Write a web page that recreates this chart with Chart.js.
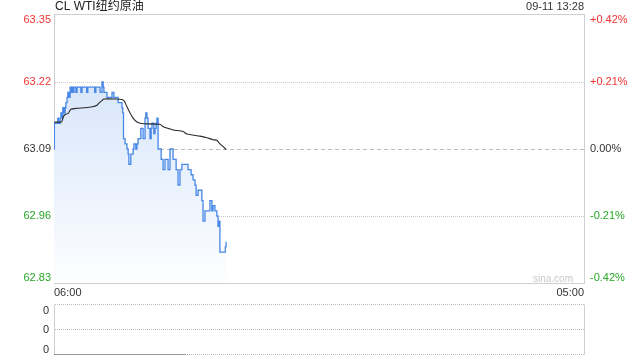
<!DOCTYPE html>
<html>
<head>
<meta charset="utf-8">
<script src="https://cdn.jsdelivr.net/npm/chart.js@4.4.1/dist/chart.umd.min.js"></script>
<style>
  html, body { margin: 0; padding: 0; background: #fff; }
  #wrap { position: relative; width: 640px; height: 360px; }
  canvas { position: absolute; left: 0; }
  #main { top: 0; }
  #vol { top: 300px; }
</style>
</head>
<body>
<div id="wrap">
  <canvas id="main" width="640" height="300"></canvas>
  <canvas id="vol" width="640" height="60"></canvas>
</div>
<script>
// chart texts
const title = 'CL WTI纽约原油';
const stamp = '09-11 13:28';
const watermark = 'sina.com';

// axes
const prevClose = 63.09;
const priceTicks = [62.83, 62.96, 63.09, 63.22, 63.35];
const pctTicks = ['-0.42%', '-0.21%', '0.00%', '+0.21%', '+0.42%'];
const xTickLabels = ['06:00', '05:00'];
const volTicks = [0, 0.5, 1];
const volTickLabels = ['0', '0', '0'];

// last price, by minute
const priceTimes = [
  '06:00', '06:01', '06:08', '06:10', '06:12', '06:16', '06:18', '06:21', '06:23', '06:26',
  '06:29', '06:31', '06:34', '06:36', '06:39', '06:42', '06:44', '06:47', '06:49', '06:52',
  '06:57', '07:00', '07:10', '07:13', '07:25', '07:28', '07:46', '07:49', '08:00', '08:05',
  '08:08', '08:10', '08:18', '08:31', '08:36', '08:47', '08:57', '08:59', '09:01', '09:05',
  '09:10', '09:13', '09:15', '09:20', '09:26', '09:28', '09:33', '09:36', '09:39', '09:46',
  '09:52', '09:57', '09:59', '10:02', '10:05', '10:10', '10:13', '10:15', '10:20', '10:23',
  '10:26', '10:28', '10:31', '10:39', '10:44', '10:49', '10:57', '11:02', '11:10', '11:18',
  '11:23', '11:28', '11:33', '11:49', '11:57', '12:02', '12:07', '12:10', '12:15', '12:25',
  '12:28', '12:33', '12:46', '12:51', '12:54', '12:59', '13:04', '13:07', '13:10', '13:12',
  '13:26', '13:28'
];
const priceValues = [
  63.09, 63.14, 63.14, 63.15, 63.14, 63.15, 63.16, 63.15, 63.17, 63.16,
  63.17, 63.18, 63.19, 63.20, 63.19, 63.21, 63.20, 63.21, 63.20, 63.21,
  63.20, 63.21, 63.20, 63.21, 63.20, 63.21, 63.20, 63.21, 63.20, 63.22,
  63.21, 63.20, 63.19, 63.20, 63.19, 63.18, 63.17, 63.16, 63.11, 63.10,
  63.09, 63.08, 63.06, 63.08, 63.09, 63.10, 63.09, 63.10, 63.11, 63.13,
  63.11, 63.15, 63.16, 63.15, 63.13, 63.11, 63.13, 63.14, 63.12, 63.13,
  63.14, 63.15, 63.09, 63.07, 63.05, 63.07, 63.05, 63.09, 63.07, 63.05,
  63.02, 63.05, 63.06, 63.05, 63.04, 63.03, 63.02, 63.00, 63.01, 62.99,
  62.95, 62.97, 62.99, 62.97, 62.98, 62.97, 62.96, 62.94, 62.95, 62.89,
  62.90, 62.91
];

// average price
const avgTimes = [
  '06:00', '06:20', '06:24', '06:29', '06:37', '06:44', '07:00', '07:20', '07:40', '07:52',
  '07:57', '08:05', '08:10', '08:40', '08:57', '09:03', '09:10', '09:18', '09:26', '09:35',
  '09:44', '09:52', '10:36', '10:44', '10:57', '11:10', '11:36', '11:46', '12:20', '12:38',
  '12:54', '13:04', '13:12', '13:20', '13:28'
];
const avgValues = [
  63.142, 63.143, 63.152, 63.157, 63.159, 63.167, 63.169, 63.170, 63.172, 63.175,
  63.179, 63.184, 63.187, 63.187, 63.186, 63.183, 63.172, 63.160, 63.150, 63.143,
  63.140, 63.139, 63.138, 63.133, 63.130, 63.127, 63.124, 63.119, 63.115, 63.112,
  63.108, 63.107, 63.100, 63.095, 63.089
];

// volume
const volTimes = ['06:00', '11:44'];
const volValues = [0, 0];

const FONT = 'Arial, "Liberation Sans", "Noto Sans CJK SC", sans-serif';
const RED = '#f03333';
const GREEN = '#26a826';
const DARK = '#333';
const FRAME = '#cfcfcf';

Chart.defaults.font.family = FONT;

function toMin(t) {
  const [h, m] = t.split(':').map(Number);
  return (h * 60 + m - 360 + 1440) % 1440;
}

function points(times, values) {
  return times.map((t, i) => ({ x: toMin(t), y: values[i] }));
}

function tickColor(v) {
  if (v > prevClose + 1e-9) return RED;
  if (v < prevClose - 1e-9) return GREEN;
  return DARK;
}

function hline(ctx, a, y, dash, color) {
  ctx.beginPath();
  ctx.setLineDash(dash);
  ctx.strokeStyle = color;
  ctx.moveTo(a.left + 1, y);
  ctx.lineTo(a.right, y);
  ctx.stroke();
}

const mainDecor = {
  id: 'mainDecor',
  beforeDatasetsDraw(chart) {
    const { ctx, chartArea: a, scales } = chart;
    ctx.save();
    ctx.lineWidth = 1;
    priceTicks.forEach((v, i) => {
      if (i === 0 || i === priceTicks.length - 1) return;
      const y = Math.round(scales.y.getPixelForValue(v)) + 0.5;
      if (v === prevClose) hline(ctx, a, y, [4, 3], '#bbb');
      else hline(ctx, a, y, [1, 1], '#ccc');
    });
    ctx.setLineDash([]);
    ctx.strokeStyle = FRAME;
    ctx.strokeRect(Math.round(a.left) + 0.5, Math.round(a.top) - 0.5,
      Math.round(a.right - a.left), Math.round(a.bottom - a.top) + 1);
    ctx.restore();
  },
  afterDraw(chart) {
    const { ctx, chartArea: a, scales } = chart;
    ctx.save();
    ctx.textBaseline = 'middle';
    ctx.font = '11px ' + FONT;
    priceTicks.forEach((v, i) => {
      let y = scales.y.getPixelForValue(v);
      y = Math.min(Math.max(y, a.top + 5), a.bottom - 5);
      ctx.fillStyle = tickColor(v);
      ctx.textAlign = 'right';
      ctx.fillText(v.toFixed(2), a.left - 3, y);
      ctx.textAlign = 'left';
      ctx.fillText(pctTicks[i], a.right + 6, y);
    });
    ctx.fillStyle = DARK;
    ctx.textAlign = 'right';
    ctx.fillText(stamp, a.right, 7);
    ctx.textAlign = 'left';
    ctx.font = '12px ' + FONT;
    ctx.fillStyle = '#222';
    ctx.fillText(title, a.left + 1, 7);
    ctx.font = '10px ' + FONT;
    ctx.fillStyle = '#c8c8c8';
    ctx.textAlign = 'right';
    ctx.fillText(watermark, a.right - 11, a.bottom - 4);
    ctx.restore();
  }
};

const volDecor = {
  id: 'volDecor',
  beforeDatasetsDraw(chart) {
    const { ctx, chartArea: a, scales } = chart;
    ctx.save();
    ctx.lineWidth = 1;
    volTicks.forEach(v => {
      const y = Math.floor(scales.y.getPixelForValue(v)) + 0.5;
      hline(ctx, a, y, [1, 1], '#bbb');
    });
    ctx.setLineDash([]);
    ctx.strokeStyle = FRAME;
    ctx.beginPath();
    const l = Math.round(a.left) + 0.5, r = Math.round(a.right) + 0.5;
    ctx.moveTo(l, a.top); ctx.lineTo(l, a.bottom + 0.5);
    ctx.moveTo(r, a.top); ctx.lineTo(r, a.bottom + 0.5);
    ctx.stroke();
    ctx.restore();
  },
  afterDraw(chart) {
    const { ctx, chartArea: a, scales } = chart;
    ctx.save();
    ctx.textBaseline = 'middle';
    ctx.textAlign = 'right';
    ctx.font = '11px ' + FONT;
    ctx.fillStyle = DARK;
    volTicks.forEach((v, i) => {
      let y = scales.y.getPixelForValue(v);
      y = Math.min(Math.max(y, a.top + 6), a.bottom - 5);
      ctx.fillText(volTickLabels[i], a.left - 5, y);
    });
    ctx.restore();
  }
};

const xMax = toMin(xTickLabels[1]);

new Chart(document.getElementById('main'), {
  type: 'line',
  data: {
    datasets: [{
      data: points(avgTimes, avgValues),
      borderColor: '#2a2a2a',
      borderWidth: 1.1,
      pointRadius: 0,
      fill: false,
      tension: 0.2
    }, {
      data: points(priceTimes, priceValues),
      borderColor: '#4787e6',
      borderWidth: 1.3,
      pointRadius: 0,
      stepped: true,
      fill: 'start',
      backgroundColor(c) {
        const a = c.chart.chartArea;
        if (!a) return 'rgba(0,0,0,0)';
        const g = c.chart.ctx.createLinearGradient(0, a.top, 0, a.bottom);
        g.addColorStop(0, '#cbdef9');
        g.addColorStop(1, '#fdfeff');
        return g;
      }
    }]
  },
  options: {
    responsive: false,
    animation: false,
    devicePixelRatio: 1,
    events: [],
    layout: { padding: { top: 15, left: 0, right: 0, bottom: 0 } },
    scales: {
      x: {
        type: 'linear',
        min: 0,
        max: xMax,
        afterBuildTicks(s) { s.ticks = xTickLabels.map(t => ({ value: toMin(t) })); },
        afterFit(s) { s.height = 17; },
        ticks: {
          callback: (v) => xTickLabels.find(t => toMin(t) === v) || '',
          align: 'inner',
          maxRotation: 0,
          autoSkip: false,
          padding: 3,
          color: DARK,
          font: { size: 11 }
        },
        grid: { display: false, drawTicks: false },
        border: { display: false }
      },
      y: {
        type: 'linear',
        position: 'left',
        min: priceTicks[0],
        max: priceTicks[priceTicks.length - 1],
        afterFit(s) { s.width = 54; },
        ticks: { display: false },
        grid: { display: false, drawTicks: false },
        border: { display: false }
      },
      y2: {
        type: 'linear',
        position: 'right',
        min: priceTicks[0],
        max: priceTicks[priceTicks.length - 1],
        afterFit(s) { s.width = 56; },
        ticks: { display: false },
        grid: { display: false, drawTicks: false },
        border: { display: false }
      }
    },
    plugins: { legend: { display: false }, tooltip: { enabled: false } }
  },
  plugins: [mainDecor]
});

new Chart(document.getElementById('vol'), {
  type: 'line',
  data: {
    datasets: [{
      data: points(volTimes, volValues),
      borderColor: '#555',
      borderWidth: 1,
      pointRadius: 0,
      fill: false
    }]
  },
  options: {
    responsive: false,
    animation: false,
    devicePixelRatio: 1,
    events: [],
    layout: { padding: { top: 4.5, left: 0, right: 56, bottom: 5.5 } },
    scales: {
      x: { type: 'linear', min: 0, max: xMax, display: false },
      y: {
        type: 'linear',
        min: volTicks[0],
        max: volTicks[volTicks.length - 1],
        afterFit(s) { s.width = 54; },
        ticks: { display: false },
        grid: { display: false, drawTicks: false },
        border: { display: false }
      }
    },
    plugins: { legend: { display: false }, tooltip: { enabled: false } }
  },
  plugins: [volDecor]
});
</script>
</body>
</html>
